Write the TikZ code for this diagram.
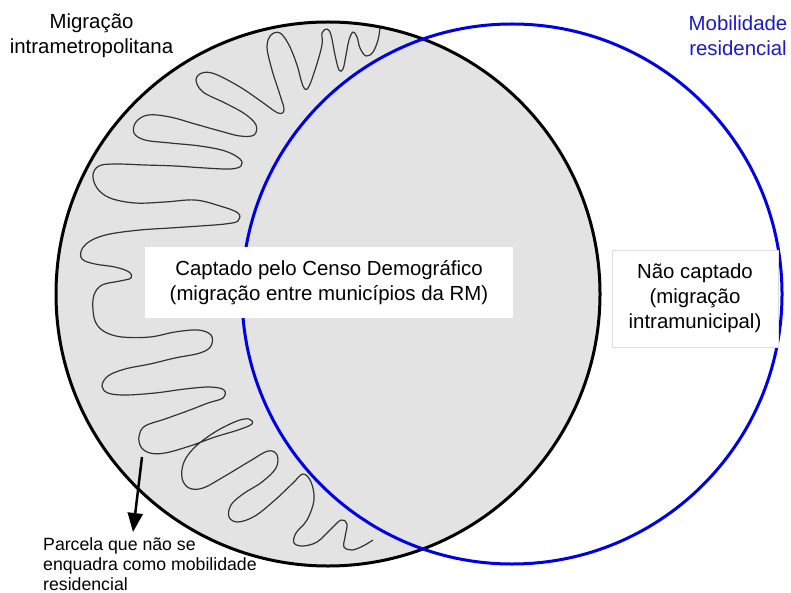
\documentclass[tikz,border=0pt]{standalone}
\usepackage{fontspec}
\setmainfont{Liberation Sans}
\usetikzlibrary{arrows.meta}
\definecolor{fillgray}{RGB}{227,227,227}
\definecolor{circblue}{RGB}{0,0,230}
\definecolor{txtblue}{RGB}{25,25,205}
\definecolor{boxline}{RGB}{222,222,222}
\begin{document}
\begin{tikzpicture}[x=1pt,y=-1pt,
  bigtxt/.style={font=\fontsize{20.4}{25}\selectfont, align=center, inner sep=0pt},
  smalltxt/.style={font=\fontsize{17.7}{20}\selectfont, align=left, inner sep=0pt},
  labelbox/.style={fill=white, inner sep=0pt, font=\fontsize{20.4}{25}\selectfont, align=center},
  wavy/.style={line width=1.2pt, black!80, line join=round},
  ring/.style={line width=3pt},
  pointer/.style={line width=2.5pt, -{Triangle[length=19pt,width=15pt]}}
]
\useasboundingbox (0,0) rectangle (791,593);
\coordinate (cblack) at (328,294);
\coordinate (cblue) at (512,294);
\fill[fillgray] (cblack) circle[radius=272pt];
\draw[wavy] plot[smooth, tension=0.6] coordinates {
(380,28) (378,40) (373,52) (366,56) (360,48) (357,37) (353,32) (349,40) (346,55) (343,69)
(339,70) (335,55) (331,35) (327,29) (322,33) (322,45) (315,70) (308,88) (303,86) (297,65)
(289,45) (280,33) (271,35) (267,47) (272,70) (280,95) (284,110) (278,113) (262,102) (240,87)
(215,74) (202,73) (196,80) (203,92) (225,103) (245,114) (256,125) (254,135) (240,136) (220,131)
(195,124) (170,117) (148,115) (136,122) (134,133) (145,140) (170,143) (200,146) (225,151) (240,159)
(241,166) (230,169) (205,168) (175,166) (145,165) (115,164) (99,166) (93,175) (97,188) (110,198)
(135,203) (165,202) (195,200) (220,206) (238,213) (238,221) (225,224) (200,226) (170,228) (140,230)
(110,234) (92,240) (82,249) (82,259) (95,264) (115,267) (129,272) (131,278) (120,281) (102,285)
(94,295) (93,310) (96,323) (105,332) (122,337) (150,337) (175,332) (198,330) (211,335) (211,346)
(200,353) (175,358) (150,364) (125,369) (108,376) (102,386) (108,393) (125,395) (155,393) (185,389)
(210,387) (224,390) (223,398) (208,403) (190,410) (165,419) (145,426) (139,436) (141,447) (150,453)
(165,453) (190,446) (215,437) (238,430) (252,424) (249,419) (237,421) (215,432) (195,447) (184,462)
(182,478) (189,488) (203,488) (225,476) (250,461) (268,451) (277,455) (276,468) (262,482) (243,494)
(231,505) (229,517) (238,522) (255,516) (275,500) (293,483) (303,474) (311,482) (314,500) (307,520)
(296,533) (294,543) (303,546) (317,542) (330,530) (341,520) (347,524) (345,537) (344,547) (352,550)
(363,546) (373,540)};
\draw[ring] (cblack) circle[radius=272pt];
\draw[ring, circblue] (cblue) circle[radius=270pt];
\node[labelbox, minimum width=368pt, minimum height=71pt] (captado) at (329,282.5)
  {Captado pelo Censo Demográfico\\(migração entre municípios da RM)};
\node[labelbox, draw=boxline, line width=0.6pt, minimum width=166pt, minimum height=97pt] (naocapt) at (695,298.5)
  {Não captado\\(migração\\intramunicipal)};
\node[bigtxt] (migr) at (91.5,35.7) {Migração\\intrametropolitana};
\node[bigtxt, text=txtblue] (mobil) at (738,35.5) {Mobilidade\\residencial};
\node[smalltxt, anchor=north west] (parcela) at (43,537) {Parcela que não se\\enquadra como mobilidade\\residencial};
\coordinate (arrtail) at (142,457);
\coordinate (arrtip) at (133,532);
\draw[pointer] (arrtail) -- (arrtip);
\end{tikzpicture}
\end{document}
